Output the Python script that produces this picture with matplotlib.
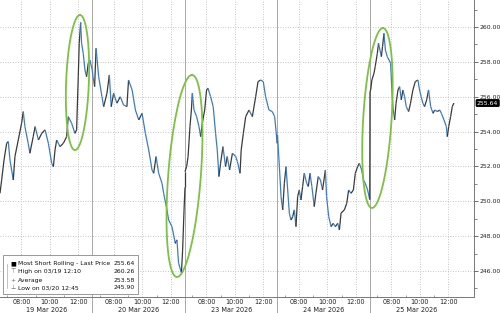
import numpy as np
import matplotlib.pyplot as plt
from matplotlib.collections import LineCollection
from matplotlib.patches import Rectangle

DAYS = ["19 Mar 2026", "20 Mar 2026", "23 Mar 2026", "24 Mar 2026", "25 Mar 2026"]

TIMES_19 = ["06:30", "06:37", "06:47", "06:58", "07:05", "07:12", "07:26", "07:33", "07:47", "08:01",
            "08:08", "08:15", "08:29", "08:36", "08:50", "08:58", "09:12", "09:26", "09:40", "09:54",
            "10:08", "10:15", "10:22", "10:29", "10:43", "10:57", "11:11", "11:18", "11:32", "11:46",
            "11:53", "12:00", "12:04", "12:10", "12:14", "12:21", "12:28", "12:35", "12:42", "12:49", "12:59"]
PRICES_19 = [250.46, 251.23, 252.37, 253.33, 253.43, 252.37, 251.23, 252.57, 253.52, 254.48,
             255.15, 254.29, 253.33, 252.76, 253.71, 254.29, 253.52, 253.90, 254.10, 253.33,
             252.18, 251.99, 252.95, 253.52, 253.14, 253.33, 253.71, 254.86, 254.48, 253.90,
             254.10, 257.15, 259.07, 260.26, 259.07, 258.49, 257.54, 257.15, 257.92, 258.11, 257.54]

TIMES_20 = ["06:32", "06:39", "06:45", "06:56", "07:10", "07:17", "07:31", "07:41", "07:49", "07:59",
            "08:13", "08:27", "08:41", "08:55", "09:02", "09:17", "09:31", "09:45", "09:59", "10:13",
            "10:27", "10:41", "10:48", "10:58", "11:09", "11:23", "11:30", "11:44", "11:51", "12:05",
            "12:19", "12:26", "12:33", "12:45", "12:50", "12:56", "13:00"]
PRICES_20 = [257.15, 256.58, 258.78, 257.15, 256.00, 255.43, 256.20, 257.25, 255.43, 256.20,
             255.63, 256.00, 255.53, 255.43, 256.96, 256.39, 255.24, 254.67, 255.05, 253.90,
             252.95, 251.80, 251.61, 252.57, 251.61, 251.04, 250.46, 249.51, 248.93, 248.55,
             247.59, 247.79, 246.45, 245.90, 247.20, 249.50, 250.80]

TIMES_23 = ["06:30", "06:37", "06:43", "06:51", "06:57", "07:01", "07:08", "07:19", "07:29", "07:36",
            "07:43", "07:53", "08:01", "08:07", "08:18", "08:29", "08:39", "08:46", "08:53", "09:00",
            "09:10", "09:21", "09:28", "09:38", "09:50", "10:04", "10:11", "10:22", "10:27", "10:36",
            "10:46", "11:00", "11:14", "11:28", "11:38", "11:49", "12:00", "12:10", "12:24", "12:38",
            "12:48", "12:59"]
PRICES_23 = [251.70, 252.00, 252.57, 254.29, 255.24, 256.20, 255.24, 254.86, 254.29, 253.71,
             254.48, 255.24, 256.39, 256.49, 256.00, 255.43, 253.90, 252.95, 251.42, 252.18,
             253.14, 251.99, 252.57, 251.80, 252.76, 252.57, 252.28, 251.61, 252.95, 253.90,
             254.86, 255.24, 254.86, 256.00, 256.87, 256.96, 256.87, 256.00, 255.24, 255.15,
             254.86, 253.33]

TIMES_24 = ["06:30", "06:38", "06:45", "06:52", "06:59", "07:06", "07:13", "07:20", "07:27", "07:34",
            "07:41", "07:48", "07:55", "08:02", "08:09", "08:16", "08:23", "08:33", "08:40", "08:47",
            "08:55", "09:05", "09:12", "09:22", "09:31", "09:40", "09:52", "09:57", "10:06", "10:16",
            "10:25", "10:34", "10:44", "10:51", "10:58", "11:12", "11:22", "11:30", "11:40", "11:50",
            "11:58", "12:08", "12:15", "12:25", "12:32", "12:40", "12:50", "12:59"]
PRICES_24 = [253.80, 251.99, 250.27, 249.51, 251.04, 251.99, 250.65, 249.32, 248.93, 249.12,
             249.51, 248.55, 250.27, 250.65, 250.08, 250.85, 251.61, 251.04, 250.85, 251.61,
             250.85, 249.70, 250.46, 251.42, 251.23, 250.65, 251.80, 250.27, 249.12, 248.55,
             248.74, 248.55, 248.74, 248.36, 249.32, 249.51, 249.89, 250.65, 250.46, 250.65,
             251.61, 251.99, 252.18, 251.80, 251.23, 251.04, 250.65, 250.10]

TIMES_25 = ["06:30", "06:33", "06:38", "06:47", "06:52", "07:01", "07:06", "07:12", "07:18", "07:23",
            "07:29", "07:35", "07:43", "07:50", "07:57", "08:03", "08:08", "08:14", "08:20", "08:28",
            "08:35", "08:42", "08:49", "08:56", "09:03", "09:13", "09:21", "09:31", "09:41", "09:52",
            "09:59", "10:06", "10:13", "10:20", "10:29", "10:37", "10:46", "10:56", "11:03", "11:14",
            "11:24", "11:31", "11:42", "11:52", "11:56", "12:02", "12:10", "12:17", "12:24"]
PRICES_25 = [256.29, 256.39, 256.96, 257.35, 257.73, 258.49, 259.07, 258.68, 258.30, 258.88,
             259.64, 258.68, 258.30, 258.11, 257.92, 256.20, 255.24, 254.67, 255.63, 256.39,
             256.58, 255.82, 256.39, 256.00, 255.43, 255.15, 255.63, 256.39, 256.87, 256.96,
             256.39, 256.00, 255.63, 255.43, 255.82, 256.39, 255.43, 255.05, 255.24, 255.15,
             255.24, 255.05, 254.67, 254.29, 253.71, 254.29, 254.86, 255.43, 255.64]

DAY_TIMES = [TIMES_19, TIMES_20, TIMES_23, TIMES_24, TIMES_25]
DAY_PRICES = [PRICES_19, PRICES_20, PRICES_23, PRICES_24, PRICES_25]

LEGEND_LABELS = ["Most Short Rolling - Last Price", "High on 03/19 12:10", "Average", "Low on 03/20 12:45"]
LEGEND_VALUES = ["255.64", "260.26", "253.58", "245.90"]
LAST_PRICE = 255.64

# ellipse annotations: top (x, y), bottom (x, y), half width in hours
ELLIPSES = [(5.62, 260.69, 5.27, 252.94, 0.8),
            (13.49, 257.25, 12.44, 245.66, 1.15),
            (26.91, 259.94, 26.14, 249.62, 1.0)]

OPEN = 6.5
SESSION = 6.5
HOUR_TICKS = [8, 10, 12]
MINOR_HOURS = [7, 9, 11]

FONT = "DejaVu Sans"
FS = 4.7
FS_Y = 4.4
FS_LEG = 4.4
UP = "#3a3a3a"
DOWN = "#3c7cc0"
GRID = "#b4b4b4"


def to_x(day, hhmm):
    h, m = hhmm.split(":")
    return day * SESSION + int(h) + int(m) / 60 - OPEN


xs, ys = [], []
for d, (times, prices) in enumerate(zip(DAY_TIMES, DAY_PRICES)):
    xs += [to_x(d, t) for t in times]
    ys += prices
xs = np.array(xs)
ys = np.array(ys)

fig = plt.figure(figsize=(5, 3.13), dpi=100)
ax = fig.add_axes([0, 0.051, 0.948, 0.949])

ax.set_xlim(0, 33.31)
ax.set_ylim(244.51, 261.55)

# grid
for v in range(246, 262, 2):
    ax.axhline(v, color=GRID, lw=0.6, ls=(0, (1, 2)), zorder=0)
for d in range(len(DAYS)):
    for h in HOUR_TICKS:
        ax.axvline(d * SESSION + h - OPEN, color=GRID, lw=0.6, ls=(0, (1, 2)), zorder=0)
for d in range(1, len(DAYS)):
    ax.axvline(d * SESSION, ymin=-0.055, ymax=1, color="#a8a8a8", lw=0.7, clip_on=False, zorder=0)

# price line, dark when rising, blue when falling
pts = np.column_stack([xs, ys])
segs = np.stack([pts[:-1], pts[1:]], axis=1)
cols = [UP if b >= a else DOWN for a, b in zip(ys[:-1], ys[1:])]
ax.add_collection(LineCollection(segs, colors=cols, linewidths=0.9, zorder=3))

# green ellipses
t = np.linspace(0, 2 * np.pi, 200)
for tx, ty, bx, by, hw in ELLIPSES:
    cx, cy = (tx + bx) / 2, (ty + by) / 2
    ex = cx + (tx - cx) * np.cos(t) + hw * np.sin(t)
    ey = cy + (ty - cy) * np.cos(t)
    ax.plot(ex, ey, color="#7cc144", lw=1.3, zorder=4)

# axes styling
for s in ["left", "top"]:
    ax.spines[s].set_visible(False)
ax.spines["right"].set_color("#777777")
ax.spines["bottom"].set_color("#777777")
ax.spines["right"].set_linewidth(0.7)
ax.spines["bottom"].set_linewidth(0.7)

ax.yaxis.tick_right()
ax.set_yticks(range(246, 262, 2))
ax.set_yticklabels([f"{v:.2f}" for v in range(246, 262, 2)], fontsize=FS_Y, family=FONT, color="#222222")
ax.set_yticks(range(245, 262, 2), minor=True)
ax.tick_params(axis="y", which="major", length=3, width=0.6, pad=0.8, colors="#555555", labelcolor="#222222")
ax.tick_params(axis="y", which="minor", length=1.8, width=0.5, colors="#555555")

major_x = [d * SESSION + h - OPEN for d in range(len(DAYS)) for h in HOUR_TICKS]
minor_x = [d * SESSION + h - OPEN for d in range(len(DAYS)) for h in MINOR_HOURS]
ax.set_xticks(major_x)
ax.set_xticklabels([f"{h:02d}:00" for d in range(len(DAYS)) for h in HOUR_TICKS],
                   fontsize=FS, family=FONT, color="#222222")
ax.set_xticks(minor_x, minor=True)
ax.tick_params(axis="x", which="major", length=0, pad=1.5)
ax.tick_params(axis="x", which="minor", length=1.8, width=0.5, direction="in", colors="#777777")

for d, name in enumerate(DAYS):
    ax.text(d * SESSION + SESSION / 2, -0.042, name, transform=ax.get_xaxis_transform(),
            ha="center", va="center", fontsize=FS, family=FONT, color="#222222")

# last price tag
ax.annotate(f"{LAST_PRICE:.2f}", xy=(1.0, LAST_PRICE), xycoords=("axes fraction", "data"),
            xytext=(2.2, 0), textcoords="offset points", ha="left", va="center",
            fontsize=FS_Y, family=FONT, color="white", annotation_clip=False,
            bbox=dict(boxstyle="round,pad=0.12", fc="black", ec="black"), zorder=6)

# legend box
fig.patches.append(Rectangle((0.006, 0.061), 0.27, 0.125, transform=fig.transFigure,
                             fc="white", ec="#888888", lw=0.6, zorder=5))
row_y = [0.157, 0.131, 0.105, 0.080]
marks = ["\u25a0", "\u22a4", "+", "\u22a5"]
mark_cols = ["black", "#666666", "#666666", "#666666"]
fig.add_artist(plt.Line2D([0.013, 0.013], [0.157, 0.080], transform=fig.transFigure,
                          color="#aaaaaa", lw=0.5, zorder=6))
for y, lab, val, mk, mc in zip(row_y, LEGEND_LABELS, LEGEND_VALUES, marks, mark_cols):
    fig.text(0.026, y, mk, ha="center", va="center", fontsize=FS_LEG, family=FONT, color=mc, zorder=7)
    fig.text(0.036, y, lab, ha="left", va="center", fontsize=FS_LEG, family=FONT, color="#111111", zorder=7)
    fig.text(0.270, y, val, ha="right", va="center", fontsize=FS_LEG, family=FONT, color="#111111", zorder=7)

fig.savefig("out.png", dpi=100)
